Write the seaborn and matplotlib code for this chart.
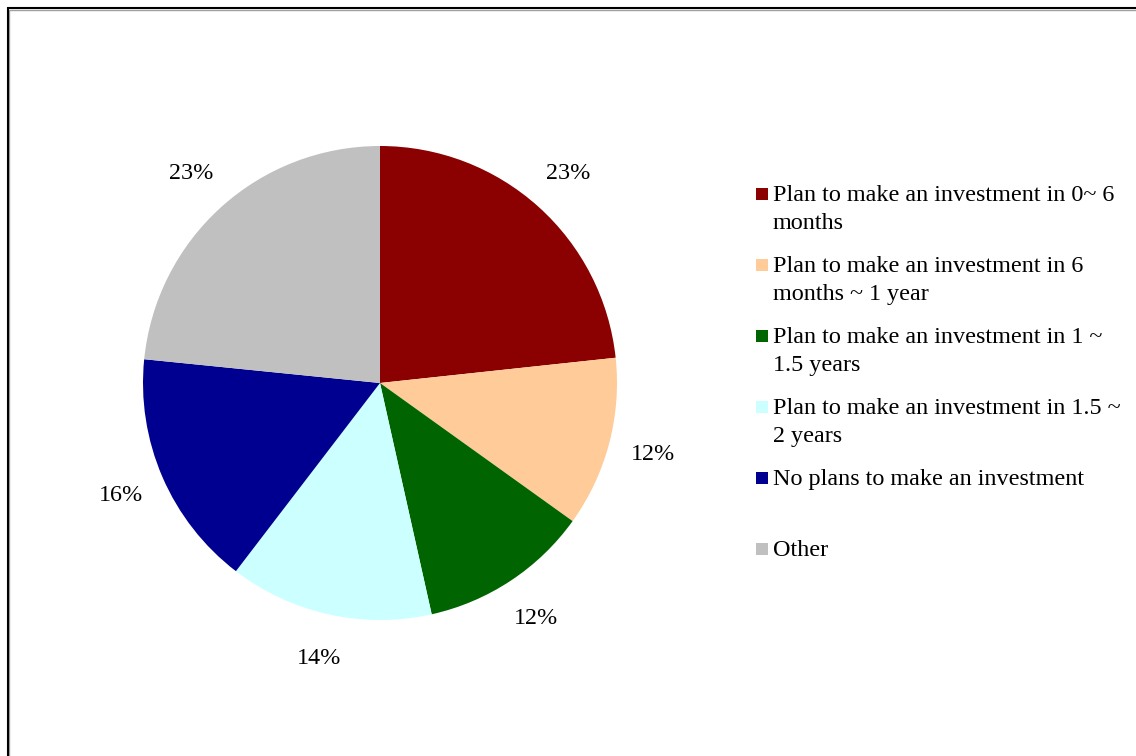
import matplotlib
matplotlib.use("Agg")
import matplotlib.pyplot as plt
from matplotlib.patches import Rectangle
import seaborn as sns

# Survey shares (percent) by investment plan
categories = [
    "Plan to make an investment in 0~ 6\nmonths",
    "Plan to make an investment in 6\nmonths ~ 1 year",
    "Plan to make an investment in 1 ~\n1.5 years",
    "Plan to make an investment in 1.5 ~\n2 years",
    "No plans to make an investment",
    "Other",
]
shares = [23.3, 11.6, 11.6, 13.9, 16.2, 23.4]
slice_colors = ["#8B0000", "#FFCC99", "#006400", "#CCFFFF", "#000090", "#C0C0C0"]

sns.set_theme(style="white")
plt.rcParams["font.family"] = ["Liberation Serif", "DejaVu Serif"]

W, H, DPI = 1136, 756, 100
FS = 17.4
fig = plt.figure(figsize=(W / DPI, H / DPI), dpi=DPI)
fig.patch.set_facecolor("white")

def fx(px):
    return px / W

def fy(py):
    return 1 - py / H

# Pie axes: centre (380, 383) px, radius 237 px
cx, cy, r = 380, 383, 237
ax = fig.add_axes([fx(cx - r), fy(cy + r), fx(2 * r), (2 * r) / H])
palette = sns.color_palette(slice_colors)
wedges, texts = ax.pie(
    shares,
    colors=palette,
    startangle=90,
    counterclock=False,
    labels=[f"{v:.0f}%" for v in shares],
    labeldistance=1.19,
    wedgeprops=dict(linewidth=0),
    textprops=dict(fontsize=FS, color="black"),
)
for t in texts:
    t.set_horizontalalignment("center")
    t.set_verticalalignment("center")
ax.set_xlim(-1, 1)
ax.set_ylim(-1, 1)
ax.set_aspect("equal")
ax.axis("off")

# Legend drawn as swatches plus wrapped text lines
leg_x_box, leg_x_text = 756, 773
first_base, entry_step, line_step = 201, 71, 28
box = 12
for i, (lab, col) in enumerate(zip(categories, palette)):
    base = first_base + i * entry_step
    fig.patches.append(Rectangle((fx(leg_x_box), fy(base - 1)), box / W, box / H,
                                 transform=fig.transFigure, facecolor=col,
                                 edgecolor="none"))
    for j, line in enumerate(lab.split("\n")):
        fig.text(fx(leg_x_text), fy(base + j * line_step), line, fontsize=FS,
                 ha="left", va="baseline", color="black")

# Outer frame of the chart area
fig.patches.append(Rectangle((fx(9), fy(H + 10)), fx(W + 10), (H + 10 - 10) / H,
                             transform=fig.transFigure, facecolor="none",
                             edgecolor="#A0A0A0", linewidth=1.0))
fig.patches.append(Rectangle((fx(7.5), fy(H + 10)), fx(W + 10), (H + 10 - 7.5) / H,
                             transform=fig.transFigure, facecolor="none",
                             edgecolor="black", linewidth=1.5))

fig.savefig("out.png", dpi=DPI, facecolor="white")
